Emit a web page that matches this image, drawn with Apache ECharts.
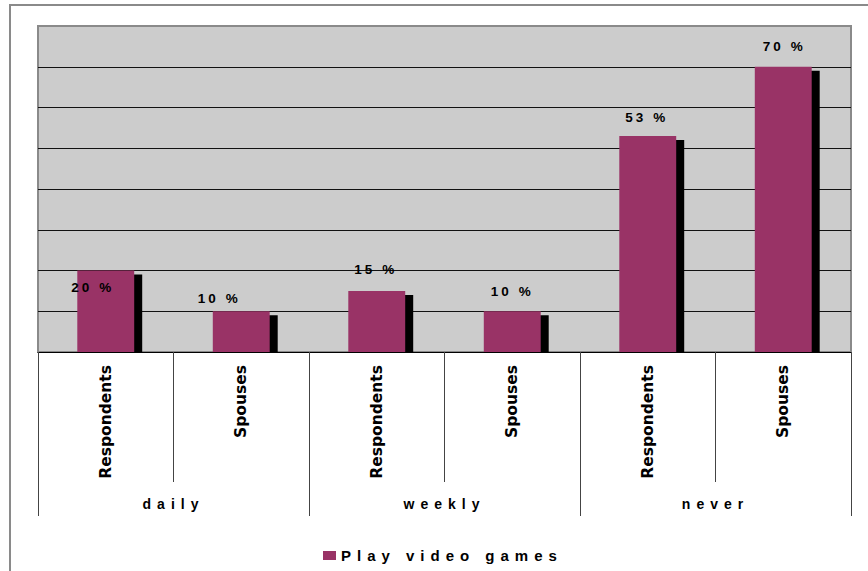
<!DOCTYPE html>
<html>
<head>
<meta charset="utf-8">
<title>Play video games</title>
<script src="https://cdn.jsdelivr.net/npm/echarts@6/dist/echarts.min.js"></script>
<style>
  html, body { margin: 0; padding: 0; background: #ffffff; }
  #chart { width: 868px; height: 571px; }
</style>
</head>
<body>
<div id="chart"></div>
<script>
// Frequency groups and the two respondent types inside each group
const groups = ['daily', 'weekly', 'never'];
const subCategories = ['Respondents', 'Spouses', 'Respondents', 'Spouses', 'Respondents', 'Spouses'];
// Share (%) who play video games
const playVideoGames = [20, 10, 15, 10, 53, 70];
const seriesName = 'Play video games';
const yTicks = { min: 0, max: 80, step: 10 };

// Label placement relative to the top centre of each bar (px)
const labelNudge = [[-13, 17], [-22, -13], [-1, -21], [0, -20], [-1, -19], [1, -20]];

const barColor = '#993366';
const chart = echarts.init(document.getElementById('chart'), null, { renderer: 'svg' });

// nine horizontal rules (0..80); the top one is left to the plot border
const ruleColors = ['#000', '#111', '#111', '#111', '#111', '#111', '#111', '#111', 'rgba(0,0,0,0)'];

const option = {
  animation: false,
  backgroundColor: '#ffffff',
  graphic: [{
    type: 'rect',
    shape: { x: 10, y: 5, width: 900, height: 600 },
    style: { fill: 'none', stroke: '#8a8a8a', lineWidth: 2 },
    silent: true
  }],
  legend: {
    left: 318,
    top: 543,
    itemWidth: 13,
    itemHeight: 9,
    icon: 'rect',
    data: [seriesName],
    textStyle: { color: '#000', fontFamily: 'Liberation Sans', fontWeight: 'bold', fontSize: 15 }
  },
  grid: {
    left: 38, top: 26, width: 813, height: 326,
    show: true,
    backgroundColor: '#cccccc',
    borderColor: '#8a8a8a',
    borderWidth: 2
  },
  xAxis: [{
    type: 'category',
    data: subCategories,
    position: 'bottom',
    axisLine: { show: true, lineStyle: { color: '#000', width: 1 } },
    axisTick: { show: true, length: 130, lineStyle: { color: '#444', width: 1 } },
    axisLabel: {
      rotate: 90,
      margin: 13,
      color: '#000',
      fontFamily: 'DejaVu Sans',
      fontWeight: 'bold',
      fontSize: 15.5,
      interval: 0
    },
    splitLine: { show: false }
  }, {
    type: 'category',
    data: groups,
    position: 'bottom',
    offset: 130,
    axisLine: { show: false },
    axisTick: { show: true, length: 34, lineStyle: { color: '#444', width: 1 } },
    axisLabel: {
      margin: 15,
      color: '#000',
      fontFamily: 'Liberation Sans',
      fontWeight: 'bold',
      fontSize: 14,
      interval: 0
    }
  }],
  yAxis: {
    type: 'value',
    min: yTicks.min,
    max: yTicks.max,
    interval: yTicks.step,
    axisLine: { show: false },
    axisTick: { show: false },
    axisLabel: { show: false },
    splitLine: { show: true, lineStyle: { color: ruleColors, width: 1 } }
  },
  series: [{
    name: seriesName,
    type: 'custom',
    xAxisIndex: 0,
    yAxisIndex: 0,
    itemStyle: { color: barColor },
    data: playVideoGames.map((v, i) => [i, v]),
    renderItem: function (params, api) {
      const i = api.value(0);
      const v = api.value(1);
      const top = api.coord([i, v]);
      const base = api.coord([i, 0]);
      const band = api.size([1, 0])[0];
      const w = band * 0.42;
      const x0 = top[0] - w / 2;
      const h = base[1] - top[1];
      const nudge = labelNudge[params.dataIndex];
      return {
        type: 'group',
        children: [
          { type: 'rect', shape: { x: x0 + 8, y: top[1] + 4, width: w, height: h - 4 }, style: { fill: '#000' } },
          { type: 'rect', shape: { x: x0, y: top[1], width: w, height: h }, style: { fill: barColor } },
          {
            type: 'text',
            style: {
              x: top[0] + nudge[0],
              y: top[1] + nudge[1],
              text: v + ' %',
              fill: '#000',
              font: 'bold 13.5px "Liberation Sans"',
              textAlign: 'center',
              textVerticalAlign: 'middle'
            }
          }
        ]
      };
    }
  }]
};

chart.setOption(option);

// widen the tracking of the value labels, group names and legend text
function spaceLetters() {
  document.querySelectorAll('#chart svg text').forEach(function (t) {
    const s = t.textContent;
    let ls = 0;
    if (/%$/.test(s)) ls = 3;
    else if (groups.indexOf(s) >= 0) ls = 6;
    else if (s === seriesName) ls = 6;
    if (ls) t.setAttribute('letter-spacing', ls);
  });
}
spaceLetters();
chart.on('finished', spaceLetters);
setTimeout(spaceLetters, 50);
</script>
</body>
</html>
